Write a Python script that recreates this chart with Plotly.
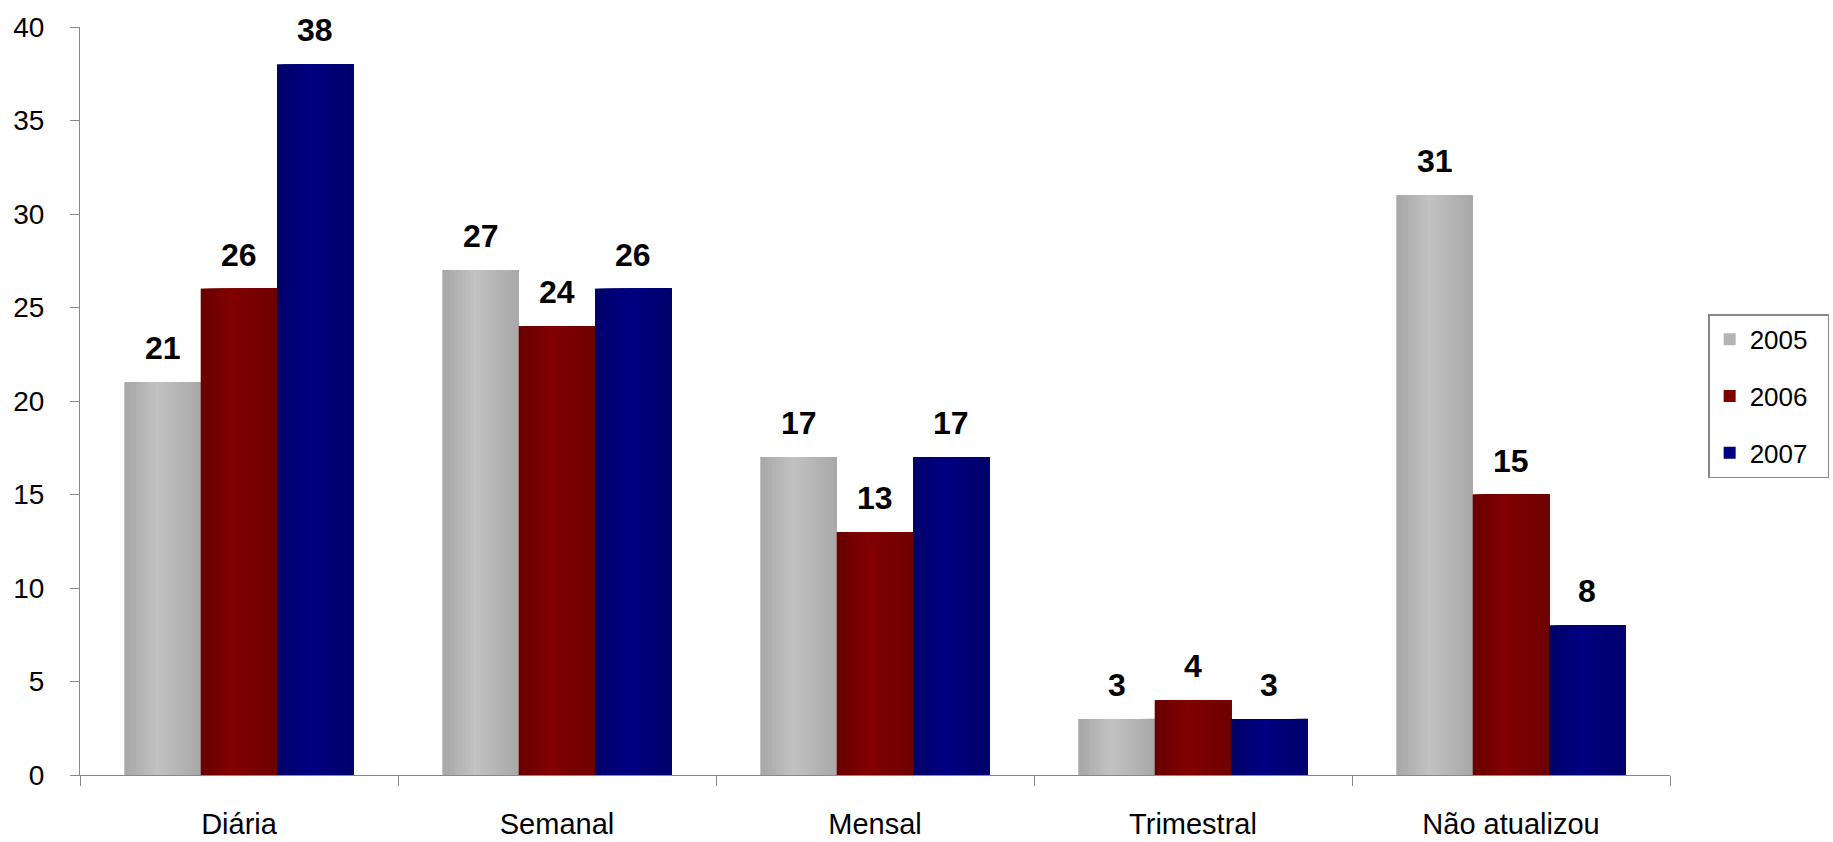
import plotly.graph_objects as go

# Frequência de atualização, por ano
categories = ["Diária", "Semanal", "Mensal", "Trimestral", "Não atualizou"]
years = ["2005", "2006", "2007"]
v2005 = [21, 27, 17, 3, 31]
v2006 = [26, 24, 13, 4, 15]
v2007 = [38, 26, 17, 3, 8]
y_ticks = [0, 5, 10, 15, 20, 25, 30, 35, 40]

series = [v2005, v2006, v2007]

# horizontal shading of each bar: left edge, highlight, right edge
shades = [
    ((166, 166, 166), (194, 194, 194), (168, 168, 168)),
    ((104, 0, 0), (130, 0, 0), (110, 0, 0)),
    ((0, 0, 104), (0, 0, 130), (0, 0, 108)),
]
legend_colors = ["#b4b4b4", "#800000", "#000080"]

FONT = "Liberation Sans, Arial, Helvetica, sans-serif"
BAR_W = 0.24
GROUP_START = -0.36
N_SLICES = 20
PEAK = 0.42


def shade(stops, t):
    left, peak, right = stops
    if t <= PEAK:
        a, b, f = left, peak, t / PEAK
    else:
        a, b, f = peak, right, (t - PEAK) / (1 - PEAK)
    r, g, bl = (round(a[i] + (b[i] - a[i]) * f) for i in range(3))
    return f"rgb({r},{g},{bl})"


fig = go.Figure()

for s, (name, vals) in enumerate(zip(years, series)):
    start = GROUP_START + s * BAR_W
    # base bar (carries the legend entry; trailing nbsp widens the box)
    fig.add_trace(go.Bar(
        x=categories, y=vals, name=name + "\u00a0\u00a0",
        legendgroup=name,
        offset=start, width=BAR_W,
        marker=dict(color=legend_colors[s], line=dict(width=0)),
        hoverinfo="x+y",
    ))
    # shaded slices laid over the base bar, left to right
    for k in range(N_SLICES):
        sl = start + k * BAR_W / N_SLICES
        fig.add_trace(go.Bar(
            x=categories, y=vals, name=name,
            legendgroup=name, showlegend=False,
            offset=sl, width=start + BAR_W - sl,
            marker=dict(color=shade(shades[s], (k + 0.5) / N_SLICES),
                        line=dict(width=0)),
            hoverinfo="skip",
        ))

# value labels above the bars
annotations = []
for s, vals in enumerate(series):
    centre = GROUP_START + s * BAR_W + BAR_W / 2
    for i, v in enumerate(vals):
        annotations.append(dict(
            x=i + centre, y=v, xref="x", yref="y",
            text=f"<b>{v}</b>", showarrow=False,
            yanchor="middle", yshift=34,
            font=dict(family=FONT, size=32, color="black"),
        ))

fig.update_layout(
    width=1833, height=842,
    margin=dict(l=80, r=163, t=27, b=67, autoexpand=False),
    paper_bgcolor="white", plot_bgcolor="white",
    barmode="overlay",
    font=dict(family=FONT, color="black"),
    annotations=annotations,
    showlegend=True,
    legend=dict(
        x=1.024, y=0.616, xanchor="left", yanchor="top",
        font=dict(family=FONT, size=26, color="black"),
        bordercolor="#888888", borderwidth=1.5, bgcolor="white",
        tracegroupgap=20, traceorder="grouped",
    ),
    xaxis=dict(
        type="category", range=[-0.5, 4.5], automargin=False,
        showline=True, linecolor="#888888", linewidth=1.2,
        ticks="outside", tickson="boundaries", ticklen=10,
        tickcolor="#888888", tickwidth=1.2,
        tickfont=dict(family=FONT, size=29, color="black"),
        ticklabelstandoff=23,
        showgrid=False, zeroline=False,
    ),
    yaxis=dict(
        range=[0, 40], tickvals=y_ticks, automargin=False,
        showline=True, linecolor="#888888", linewidth=1.2,
        ticks="outside", ticklen=9,
        tickcolor="#888888", tickwidth=1.2,
        tickfont=dict(family=FONT, size=28, color="black"),
        ticklabelstandoff=20,
        showgrid=False, zeroline=False,
    ),
)

fig.write_html("out.html")
